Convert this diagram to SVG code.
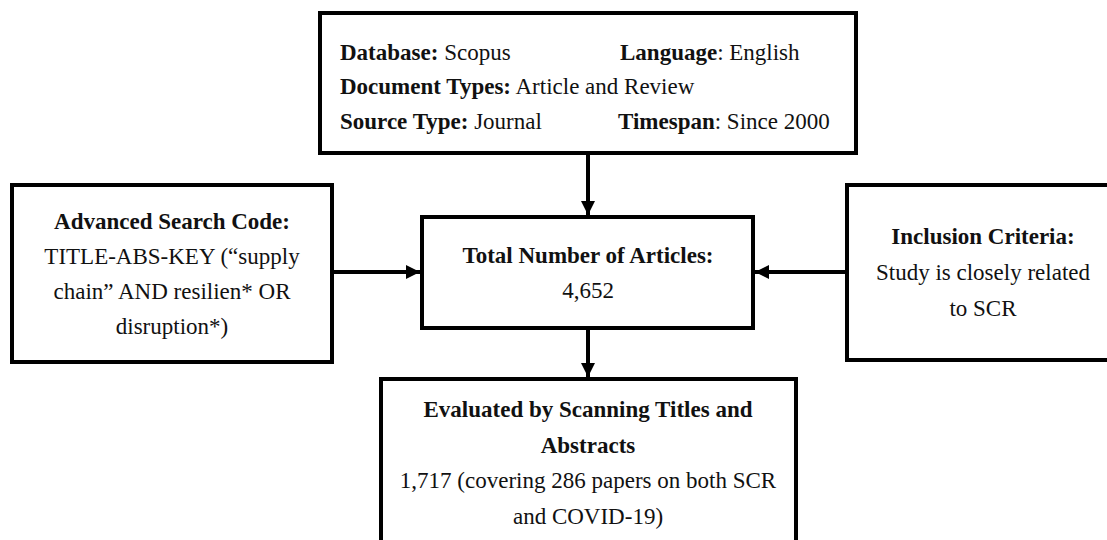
<svg xmlns="http://www.w3.org/2000/svg" width="1107" height="540" viewBox="0 0 1107 540">
<style>
.box{fill:#fff;stroke:#000;stroke-width:4}
text{font-family:"Liberation Serif","Times New Roman",serif;font-size:23px;fill:#111}
.b{font-weight:bold}
.c{text-anchor:middle}
.line{stroke:#000;stroke-width:4;fill:none}
</style>
<defs>
<marker id="ah" viewBox="0 0 10 10" refX="10" refY="5" markerWidth="3.5" markerHeight="3.5" orient="auto" markerUnits="strokeWidth">
<path d="M0,0 L10,5 L0,10 Z" fill="#000"/>
</marker>
</defs>
<g id="connectors">
<line class="line" x1="588" y1="153" x2="588" y2="215" marker-end="url(#ah)"/>
<line class="line" x1="332" y1="272" x2="420" y2="272" marker-end="url(#ah)"/>
<line class="line" x1="847" y1="272" x2="755" y2="272" marker-end="url(#ah)"/>
<line class="line" x1="588" y1="328" x2="588" y2="377" marker-end="url(#ah)"/>
</g>
<g id="top">
<rect class="box" x="320" y="13" width="536" height="140"/>
<text x="340" y="60"><tspan class="b">Database:</tspan> Scopus</text>
<text x="620" y="60"><tspan class="b">Language</tspan>: English</text>
<text x="340" y="94"><tspan class="b">Document Types:</tspan> Article and Review</text>
<text x="340" y="129"><tspan class="b">Source Type:</tspan> Journal</text>
<text x="618" y="129"><tspan class="b">Timespan</tspan>: Since 2000</text>
</g>
<g id="search">
<rect class="box" x="12" y="185" width="320" height="177"/>
<text class="c b" x="172" y="229">Advanced Search Code:</text>
<text class="c" x="172" y="264">TITLE-ABS-KEY (“supply</text>
<text class="c" x="172" y="299">chain” AND resilien* OR</text>
<text class="c" x="172" y="334">disruption*)</text>
</g>
<g id="total">
<rect class="box" x="422" y="217" width="331" height="111"/>
<text class="c b" x="588" y="263">Total Number of Articles:</text>
<text class="c" x="588" y="298">4,652</text>
</g>
<g id="inclusion">
<rect class="box" x="847" y="185" width="280" height="175"/>
<text class="c b" x="983" y="244">Inclusion Criteria:</text>
<text class="c" x="983" y="280">Study is closely related</text>
<text class="c" x="983" y="316">to SCR</text>
</g>
<g id="evaluated">
<rect class="box" x="381" y="379" width="415" height="180"/>
<text class="c b" x="588" y="417">Evaluated by Scanning Titles and</text>
<text class="c b" x="588" y="453">Abstracts</text>
<text class="c" x="588" y="488">1,717 (covering 286 papers on both SCR</text>
<text class="c" x="588" y="524">and COVID-19)</text>
</g>
</svg>
